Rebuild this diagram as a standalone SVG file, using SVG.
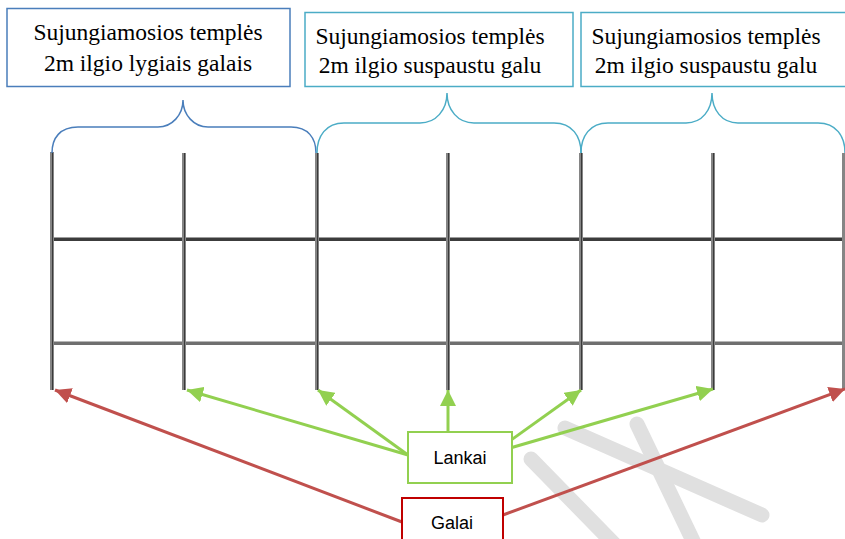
<svg xmlns="http://www.w3.org/2000/svg" width="845" height="539" viewBox="0 0 845 539">
<style>
.serif{font-family:"Liberation Serif","Times New Roman",serif;font-size:23.5px;fill:#000}
.sans{font-family:"Liberation Sans",Arial,sans-serif;font-size:18px;fill:#000}
.post{fill:#858585}
.postc{stroke:#3a3a3a;stroke-width:1}
.bar1{fill:#3c3c3c}
.bar2{fill:#6f6f6f}
.wm{stroke:#e0e0e0;stroke-width:15;stroke-linecap:round;fill:none}
.g{stroke:#92d050;stroke-width:3;fill:none}
.r{stroke:#c0504d;stroke-width:3;fill:none}
</style>
<defs>
<marker id="ag" markerUnits="userSpaceOnUse" markerWidth="18" markerHeight="16" refX="16" refY="8" orient="auto"><path d="M0,0 L16,8 L0,16 Z" fill="#92d050"/></marker>
<marker id="ar" markerUnits="userSpaceOnUse" markerWidth="18" markerHeight="16" refX="16" refY="8" orient="auto"><path d="M0,0 L16,8 L0,16 Z" fill="#c0504d"/></marker>
</defs>
<rect width="845" height="539" fill="#fff"/>
<g id="watermark">
<line class="wm" x1="565" y1="428" x2="762" y2="515"/>
<line class="wm" x1="637" y1="424" x2="695" y2="545"/>
<line class="wm" x1="531" y1="459" x2="620" y2="550"/>
</g>
<g id="frame">
<rect class="bar1" x="52" y="237.5" width="793" height="3.5"/>
<rect class="bar2" x="52" y="341.5" width="793" height="3.5"/>
<g id="posts">
<rect class="post" x="50" y="152" width="4" height="238"/><line class="postc" x1="52.5" y1="152" x2="52.5" y2="390"/>
<rect class="post" x="182" y="153" width="4" height="237"/><line class="postc" x1="184.5" y1="153" x2="184.5" y2="390"/>
<rect class="post" x="315" y="153" width="4" height="237"/><line class="postc" x1="317.5" y1="153" x2="317.5" y2="390"/>
<rect class="post" x="446" y="153" width="4" height="237"/><line class="postc" x1="448.5" y1="153" x2="448.5" y2="390"/>
<rect class="post" x="579" y="153" width="4" height="237"/><line class="postc" x1="581.5" y1="153" x2="581.5" y2="390"/>
<rect class="post" x="711" y="153" width="4" height="237"/><line class="postc" x1="713.5" y1="153" x2="713.5" y2="390"/>
<rect class="post" x="842" y="153" width="3" height="237"/>
</g>
</g>
<g id="brace1">
<path d="M52,153 C52,138 60,127 78,127 L158,127 C172,127 183,115 183,100 C183,115 194,127 208,127 L291,127 C308,127 316,138 316,153" fill="none" stroke="#4a7ebb" stroke-width="1.5"/>
</g>
<g id="brace2">
<path d="M317,153 C317,136 326,123 344,123 L420,123 C436,123 447,110 447,93 C447,110 458,123 474,123 L554,123 C572,123 581,136 581,153" fill="none" stroke="#4bacc6" stroke-width="1.5"/>
</g>
<g id="brace3">
<path d="M581,153 C581,136 590,123 608,123 L686,123 C702,123 712,110 712,93 C712,110 722,123 738,123 L818,123 C836,123 845,136 845,153" fill="none" stroke="#4bacc6" stroke-width="1.5"/>
</g>
<g id="box1">
<rect x="7" y="8.5" width="283" height="78" fill="#fff" stroke="#4a7ebb" stroke-width="1.5"/>
<text class="serif" x="148" y="40" text-anchor="middle">Sujungiamosios templės</text>
<text class="serif" x="148" y="71" text-anchor="middle">2m ilgio lygiais galais</text>
</g>
<g id="box2">
<rect x="305" y="12.5" width="268" height="74" fill="#fff" stroke="#4bacc6" stroke-width="1.5"/>
<text class="serif" x="430" y="44" text-anchor="middle">Sujungiamosios templės</text>
<text class="serif" x="430" y="73" text-anchor="middle">2m ilgio suspaustu galu</text>
</g>
<g id="box3">
<rect x="581" y="12.5" width="270" height="74" fill="#fff" stroke="#4bacc6" stroke-width="1.5"/>
<text class="serif" x="706" y="44" text-anchor="middle">Sujungiamosios templės</text>
<text class="serif" x="706" y="73" text-anchor="middle">2m ilgio suspaustu galu</text>
</g>
<g id="connectors">
<line class="g" x1="408" y1="455" x2="187" y2="390" marker-end="url(#ag)"/>
<line class="g" x1="408" y1="455" x2="318" y2="390" marker-end="url(#ag)"/>
<line class="g" x1="448" y1="432" x2="448" y2="390" marker-end="url(#ag)"/>
<line class="g" x1="493" y1="453" x2="581" y2="390" marker-end="url(#ag)"/>
<line class="g" x1="493" y1="453" x2="713" y2="389" marker-end="url(#ag)"/>
<line class="r" x1="402" y1="522" x2="55" y2="390" marker-end="url(#ar)"/>
<line class="r" x1="503" y1="515" x2="845" y2="389" marker-end="url(#ar)"/>
</g>
<g id="lankai">
<rect x="408" y="432" width="104" height="51" fill="#fff" stroke="#92d050" stroke-width="2"/>
<text class="sans" x="460" y="464" text-anchor="middle">Lankai</text>
</g>
<g id="galai">
<rect x="402" y="498" width="101" height="50" fill="#fff" stroke="#c00000" stroke-width="2"/>
<text class="sans" x="452" y="529" text-anchor="middle">Galai</text>
</g>
</svg>
